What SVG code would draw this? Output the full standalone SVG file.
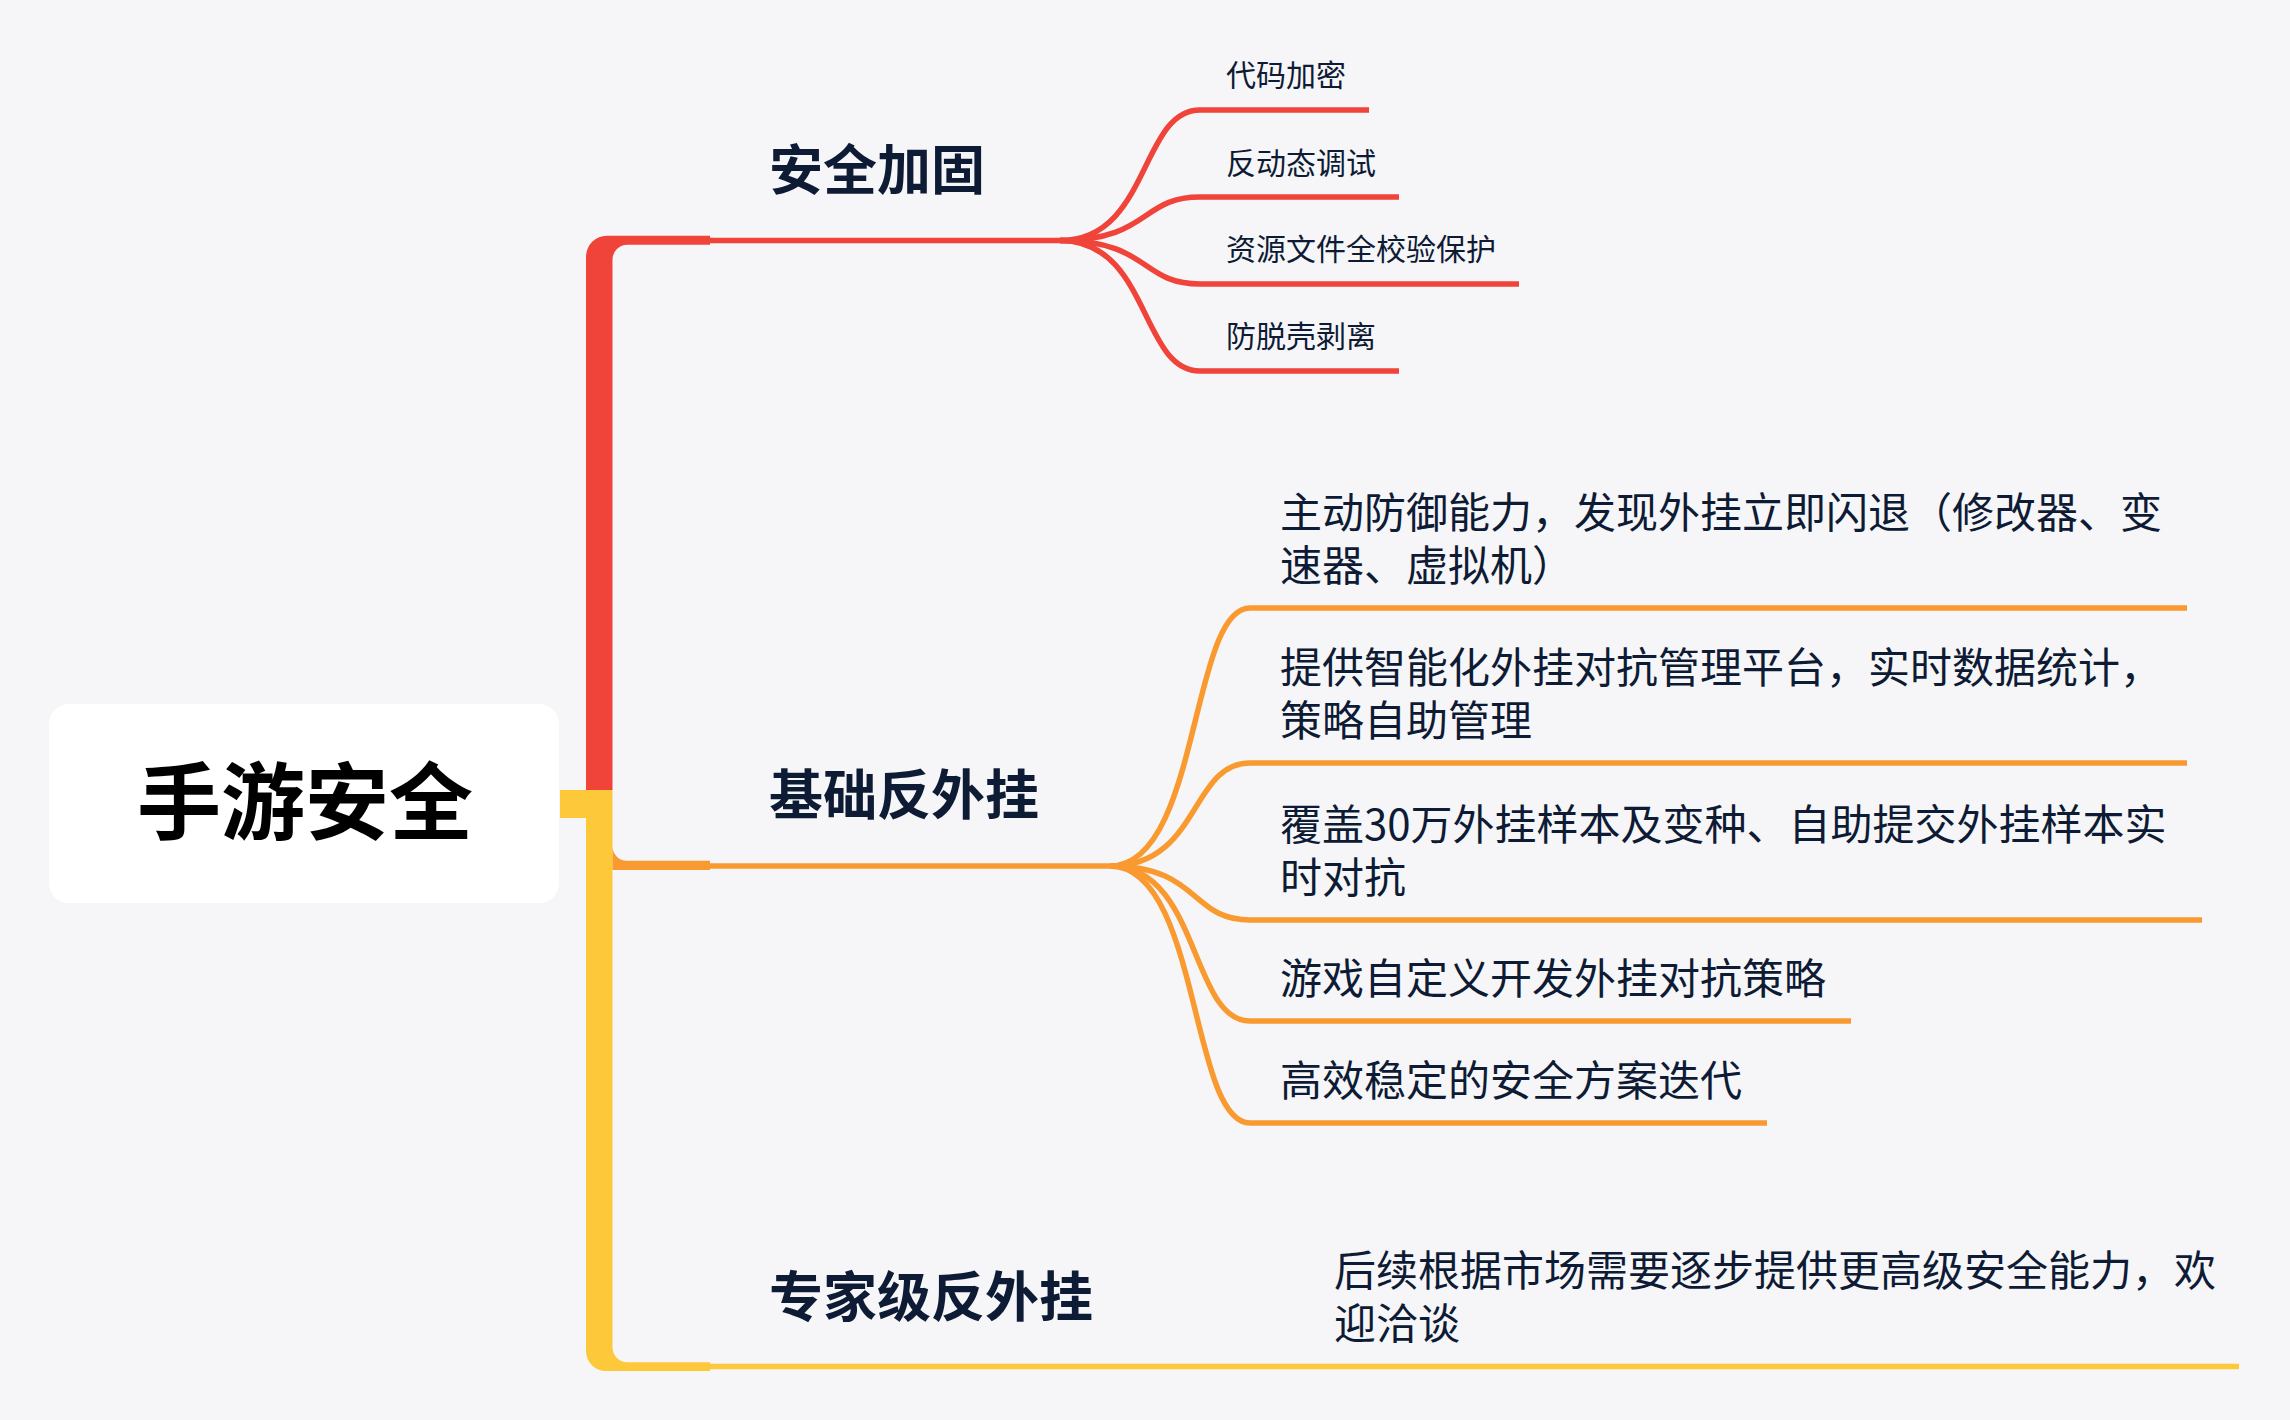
<svg xmlns="http://www.w3.org/2000/svg" width="2290" height="1420" viewBox="0 0 2290 1420">
<style>
.t{font-family:"Noto Sans CJK SC","Noto Sans",sans-serif;fill:#0e1b35}
.c1{font-size:30px}
.c2{font-size:42px}
.b{font-size:54px;font-weight:700}
.root{font-size:84px;font-weight:700;fill:#000}
.ln{fill:none;stroke-width:5.5;stroke-linecap:butt}
.red{stroke:#f0433a}
.org{stroke:#f99a30}
.yel{stroke:#fdc83a}
</style>
<rect width="2290" height="1420" fill="#f6f6f8"/>
<g id="connectors">
  <path fill="#f0433a" d="M710,235.7 L607,235.7 A21,21 0 0 0 586,256.7 L586,790 L612.5,790 L612.5,259.7 A15,15 0 0 1 627.5,244.7 L710,244.7 Z"/>
  <path fill="#fdc83a" d="M560,790 L612.5,790 L612.5,1347.3 A15,15 0 0 0 627.5,1362.3 L710,1362.3 L710,1371 L606,1371 A20,20 0 0 1 586,1351 L586,818 L560,818 Z"/>
  <path fill="#f99a30" d="M612.5,846 A14.5,14.5 0 0 0 627,860.7 L710,860.7 L710,870 L612.5,870 Z"/>
  <path class="ln red" stroke-width="6" d="M709,240.5 H1062"/>
  <path class="ln red" d="M1060,240.5 C1150,240.5 1140,110 1200,110 H1369"/>
  <path class="ln red" d="M1060,240.5 C1150,240.5 1140,197 1200,197 H1399"/>
  <path class="ln red" d="M1060,240.5 C1150,240.5 1140,284 1200,284 H1519"/>
  <path class="ln red" d="M1060,240.5 C1150,240.5 1140,371 1200,371 H1399"/>
  <path class="ln org" d="M709,866 H1112"/>
  <path class="ln org" d="M1110,866 C1200,866 1190,608 1250,608 H2187"/>
  <path class="ln org" d="M1110,866 C1200,866 1190,763 1250,763 H2187"/>
  <path class="ln org" d="M1110,866 C1200,866 1190,920 1250,920 H2202"/>
  <path class="ln org" d="M1110,866 C1200,866 1190,1021 1250,1021 H1851"/>
  <path class="ln org" d="M1110,866 C1200,866 1190,1123 1250,1123 H1767"/>
  <path class="ln yel" d="M709,1366.5 H2239"/>
</g>
<g id="root">
  <rect x="49" y="704" width="510" height="199" rx="20" fill="#ffffff"/>
  <text class="t root" x="305" y="833" text-anchor="middle">手游安全</text>
</g>
<g id="branch-1"><text class="t b" x="769" y="190">安全加固</text></g>
<g id="branch-2"><text class="t b" x="769" y="815">基础反外挂</text></g>
<g id="branch-3"><text class="t b" x="769" y="1317">专家级反外挂</text></g>
<g id="n1-1"><text class="t c1" x="1226" y="86">代码加密</text></g>
<g id="n1-2"><text class="t c1" x="1226" y="173.5">反动态调试</text></g>
<g id="n1-3"><text class="t c1" x="1226" y="260">资源文件全校验保护</text></g>
<g id="n1-4"><text class="t c1" x="1226" y="347">防脱壳剥离</text></g>
<g id="n2-1"><text class="t c2" x="1280" y="527.5">主动防御能力，发现外挂立即闪退（修改器、变<tspan x="1280" dy="53">速器、虚拟机）</tspan></text></g>
<g id="n2-2"><text class="t c2" x="1280" y="682.5">提供智能化外挂对抗管理平台，实时数据统计，<tspan x="1280" dy="53">策略自助管理</tspan></text></g>
<g id="n2-3"><text class="t c2" x="1280" y="839.5">覆盖30万外挂样本及变种、自助提交外挂样本实<tspan x="1280" dy="53">时对抗</tspan></text></g>
<g id="n2-4"><text class="t c2" x="1280" y="993.5">游戏自定义开发外挂对抗策略</text></g>
<g id="n2-5"><text class="t c2" x="1280" y="1095.5">高效稳定的安全方案迭代</text></g>
<g id="n3-1"><text class="t c2" x="1334" y="1286">后续根据市场需要逐步提供更高级安全能力，欢<tspan x="1334" dy="53">迎洽谈</tspan></text></g>
</svg>
